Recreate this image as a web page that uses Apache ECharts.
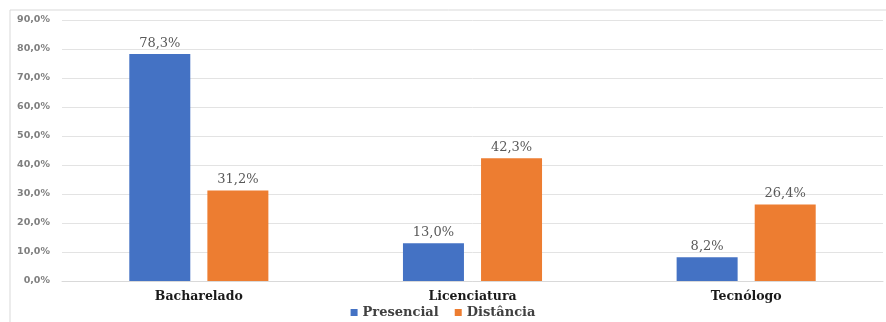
<!DOCTYPE html>
<html><head><meta charset="utf-8">
<script src="https://cdn.jsdelivr.net/npm/echarts@6/dist/echarts.min.js"></script>
<style>html,body{margin:0;padding:0;background:#fff}#c{width:886px;height:322px}</style>
</head><body><div id="c"></div>
<script>
const categories = ['Bacharelado', 'Licenciatura', 'Tecnólogo'];
const presencial = [78.3, 13.0, 8.2];
const distancia = [31.2, 42.3, 26.4];
const seriesNames = ['Presencial', 'Distância'];
const yTicks = [0, 10, 20, 30, 40, 50, 60, 70, 80, 90];

const fmt = v => v.toFixed(1).replace('.', ',') + '%';
const chart = echarts.init(document.getElementById('c'));
const labelStyle = {show: true, position: 'top', distance: 4, color: '#595959', fontFamily: 'DejaVu Serif', fontSize: 13, formatter: p => fmt(p.value)};
chart.setOption({
  animation: false,
  graphic: [{type: 'rect', shape: {x: 10, y: 10, width: 890, height: 330}, style: {fill: 'none', stroke: '#d9d9d9', lineWidth: 1}, silent: true}],
  grid: {left: 62, right: 3, top: 20, bottom: 41},
  legend: {
    data: seriesNames, bottom: -2, left: 'center', itemWidth: 7, itemHeight: 7, itemGap: 16, icon: 'rect',
    textStyle: {fontFamily: 'DejaVu Serif', fontWeight: 'bold', fontSize: 13, color: '#404040'}
  },
  xAxis: {
    type: 'category', data: categories,
    axisLine: {lineStyle: {color: '#d9d9d9'}}, axisTick: {show: false},
    axisLabel: {fontFamily: 'DejaVu Serif', fontWeight: 'bold', fontSize: 12.5, color: '#1a1a1a', margin: 9}
  },
  yAxis: {
    type: 'value', min: yTicks[0], max: yTicks[yTicks.length - 1], interval: 10,
    axisLine: {show: false}, axisTick: {show: false},
    splitLine: {lineStyle: {color: '#e3e3e3'}},
    axisLabel: {fontFamily: 'DejaVu Sans', fontWeight: 'bold', fontSize: 9.5, color: '#7f7f7f', margin: 12, formatter: v => fmt(v)}
  },
  series: [
    {name: seriesNames[0], type: 'bar', data: presencial, barWidth: 61, barGap: '28%', itemStyle: {color: '#4472C4'}, label: labelStyle},
    {name: seriesNames[1], type: 'bar', data: distancia, barWidth: 61, itemStyle: {color: '#ED7D31'}, label: labelStyle}
  ]
});
</script></body></html>
